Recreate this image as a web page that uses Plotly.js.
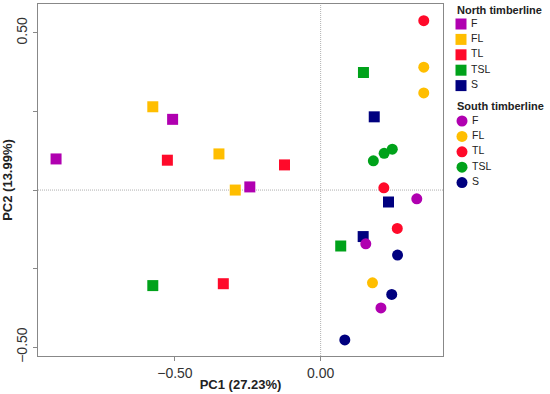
<!DOCTYPE html>
<html>
<head>
<meta charset="utf-8">
<script src="https://cdn.plot.ly/plotly-3.0.1.min.js"></script>
<style>html,body{margin:0;padding:0;background:#fff}#chart{width:550px;height:394px}</style>
</head>
<body>
<div id="chart"></div>
<script>
// Categories and colours
const categories = ['F', 'FL', 'TL', 'TSL', 'S'];
const colors = ['#B000B0', '#FFBE00', '#FF0A2A', '#00A21A', '#00007F'];
const groupNames = ['North timberline', 'South timberline'];

// North timberline (squares): PC1, PC2
const nF_pc1 = [-0.908, -0.508, -0.243];
const nF_pc2 = [0.099, 0.225, 0.010];
const nFL_pc1 = [-0.576, -0.349, -0.293];
const nFL_pc2 = [0.265, 0.115, 0.000];
const nTL_pc1 = [-0.526, -0.334, -0.124];
const nTL_pc2 = [0.095, -0.298, 0.080];
const nTSL_pc1 = [-0.576, 0.147, 0.069];
const nTSL_pc2 = [-0.304, 0.374, -0.178];
const nS_pc1 = [0.184, 0.233, 0.146];
const nS_pc2 = [0.233, -0.038, -0.148];

// South timberline (circles): PC1, PC2
const sF_pc1 = [0.155, 0.330, 0.207];
const sF_pc2 = [-0.171, -0.028, -0.375];
const sFL_pc1 = [0.354, 0.354, 0.178];
const sFL_pc2 = [0.391, 0.309, -0.295];
const sTL_pc1 = [0.354, 0.217, 0.263];
const sTL_pc2 = [0.539, 0.007, -0.122];
const sTSL_pc1 = [0.181, 0.218, 0.246];
const sTSL_pc2 = [0.093, 0.117, 0.130];
const sS_pc1 = [0.264, 0.244, 0.083];
const sS_pc2 = [-0.207, -0.332, -0.477];

const north = [[nF_pc1, nF_pc2], [nFL_pc1, nFL_pc2], [nTL_pc1, nTL_pc2], [nTSL_pc1, nTSL_pc2], [nS_pc1, nS_pc2]];
const south = [[sF_pc1, sF_pc2], [sFL_pc1, sFL_pc2], [sTL_pc1, sTL_pc2], [sTSL_pc1, sTSL_pc2], [sS_pc1, sS_pc2]];

const FONT = 'Arial, "Liberation Sans", sans-serif';
const traces = [];
north.forEach((d, i) => traces.push({
  type: 'scatter', mode: 'markers', x: d[0], y: d[1], name: 'North ' + categories[i],
  marker: {symbol: 'square', size: 11, color: colors[i]}, showlegend: false, hoverinfo: 'x+y+name'
}));
south.forEach((d, i) => traces.push({
  type: 'scatter', mode: 'markers', x: d[0], y: d[1], name: 'South ' + categories[i],
  marker: {symbol: 'circle', size: 11, color: colors[i]}, showlegend: false, hoverinfo: 'x+y+name'
}));

// Custom legend drawn on a hidden pixel-scaled subplot
const rowGap = 15.4;
const northRows = categories.map((c, i) => 20 + i * rowGap);
const southRows = categories.map((c, i) => 117 + i * rowGap);
traces.push({
  type: 'scatter', mode: 'markers+text', xaxis: 'x2', yaxis: 'y2',
  x: categories.map(() => 11), y: northRows, text: categories.map(c => '\u2009' + c), textposition: 'middle right',
  textfont: {family: FONT, size: 10.5, color: '#222'},
  marker: {symbol: 'square', size: 11, color: colors}, showlegend: false, hoverinfo: 'skip'
});
traces.push({
  type: 'scatter', mode: 'markers+text', xaxis: 'x2', yaxis: 'y2',
  x: categories.map(() => 12), y: southRows, text: categories.map(c => '\u2009' + c), textposition: 'middle right',
  textfont: {family: FONT, size: 10.5, color: '#222'},
  marker: {symbol: 'circle', size: 11, color: colors}, showlegend: false, hoverinfo: 'skip'
});

const W = 550, H = 394, ml = 38, mt = 4, mb = 38;
const pw = W - ml;
const layout = {
  width: W, height: H,
  margin: {l: ml, r: 0, t: mt, b: mb, pad: 0},
  paper_bgcolor: '#fff', plot_bgcolor: '#fff',
  showlegend: false,
  font: {family: FONT, color: '#333'},
  xaxis: {
    domain: [0, (443 - ml) / pw], range: [-0.970, 0.420],
    tickvals: [-0.5, 0], tickformat: '.2f',
    ticks: 'outside', ticklen: 4, tickcolor: '#888', tickfont: {size: 14, color: '#333'},
    showline: true, mirror: true, linecolor: '#888', linewidth: 1,
    showgrid: false, zeroline: false,
    title: {text: '<b>PC1 (27.23%)</b>', font: {size: 13, color: '#222'}, standoff: 0}
  },
  yaxis: {
    range: [-0.528, 0.592],
    tickvals: [-0.5, -0.25, 0, 0.25, 0.5], ticktext: ['\u22120.50', '', '', '', '0.50'],
    tickangle: -90,
    ticks: 'outside', ticklen: 4, tickcolor: '#888', tickfont: {size: 14, color: '#333'},
    showline: true, mirror: true, linecolor: '#888', linewidth: 1,
    showgrid: false, zeroline: false,
    title: {text: '<b>PC2 (13.99%)</b>', font: {size: 13, color: '#222'}, standoff: 3}
  },
  xaxis2: {domain: [(450 - ml) / pw, 1], range: [0, 100], visible: false, fixedrange: true},
  yaxis2: {domain: [0, 1], range: [H - mt - mb, 0], visible: false, fixedrange: true, anchor: 'x2'},
  shapes: [
    {type: 'line', xref: 'x', yref: 'paper', x0: 0, x1: 0, y0: 0, y1: 1, layer: 'below',
     line: {color: '#b0b0b0', width: 1, dash: '1px,1px'}},
    {type: 'line', xref: 'paper', yref: 'y', x0: 0, x1: (443 - ml) / pw, y0: 0, y1: 0, layer: 'below',
     line: {color: '#b0b0b0', width: 1, dash: '1px,1px'}}
  ],
  annotations: [
    {xref: 'x2', yref: 'y2', x: 5, y: 5.5, text: '<b>' + groupNames[0] + '</b>', showarrow: false,
     xanchor: 'left', yanchor: 'middle', font: {family: FONT, size: 11, color: '#222'}},
    {xref: 'x2', yref: 'y2', x: 5, y: 101.5, text: '<b>' + groupNames[1] + '</b>', showarrow: false,
     xanchor: 'left', yanchor: 'middle', font: {family: FONT, size: 11, color: '#222'}}
  ]
};
Plotly.newPlot('chart', traces, layout, {displayModeBar: false, staticPlot: true});
</script>
</body>
</html>
